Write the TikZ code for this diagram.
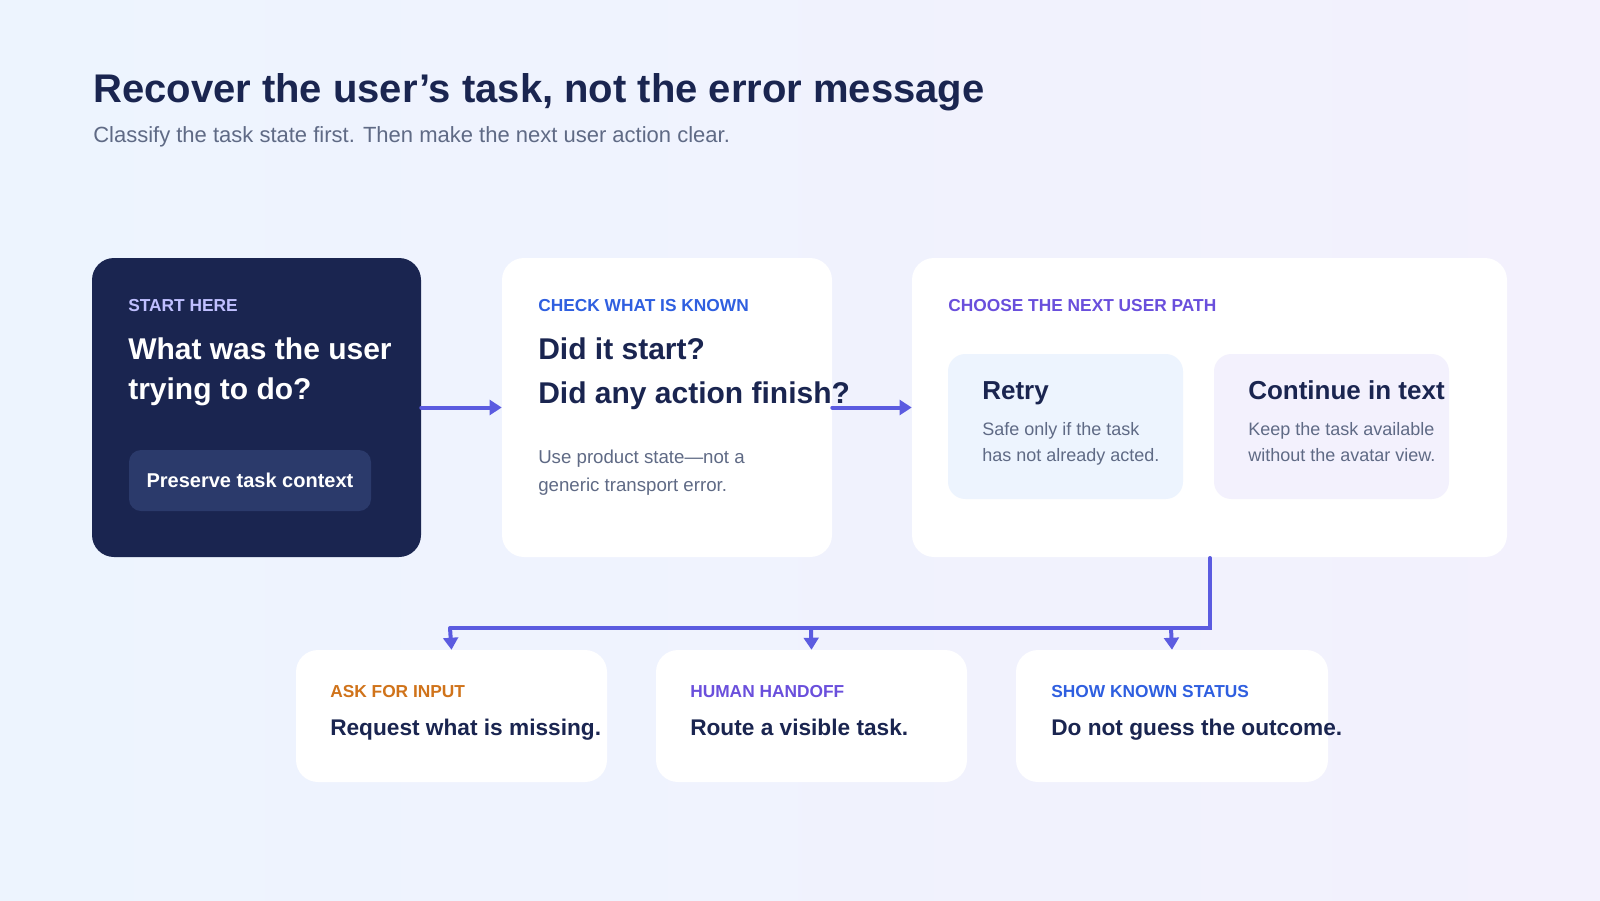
\documentclass[tikz,border=0pt]{standalone}
\usepackage{fontspec}
\setmainfont{Liberation Sans}
\usetikzlibrary{arrows.meta}
\definecolor{navy}{HTML}{1A2550}
\definecolor{btn}{HTML}{2B3A6B}
\definecolor{gtxt}{HTML}{5F6A85}
\definecolor{bluel}{HTML}{2F5FE0}
\definecolor{purp}{HTML}{6A4FDC}
\definecolor{orng}{HTML}{D0731A}
\definecolor{bgA}{HTML}{EDF4FE}
\definecolor{bgB}{HTML}{F3F1FD}
\definecolor{arr}{HTML}{5B5BE0}
\tikzset{
 card/.style={fill=white,rounded corners=22*0.75pt},
 t/.style={anchor=base west,inner sep=0pt},
 fs/.style args={#1}{font=\fontsize{#1*0.75pt}{#1*0.9pt}\selectfont},
 lab/.style={t,font=\fontsize{13pt}{15pt}\selectfont\bfseries},
 big/.style={t,font=\fontsize{22.5pt}{27pt}\selectfont\bfseries,text=navy},
 small/.style={t,font=\fontsize{14pt}{17pt}\selectfont,text=gtxt},
 con/.style={draw=arr,line width=3pt,-{Triangle[length=9pt,width=11pt]}},
}
\begin{document}
\begin{tikzpicture}[x=0.75pt,y=-0.75pt]
\shade[left color=bgA,right color=bgB] (0,0) rectangle (1600,900);
\useasboundingbox (0,0) rectangle (1600,900);
% title
\node[t,font=\fontsize{30pt}{34pt}\selectfont\bfseries,text=navy] (title) at (93,102) {Recover the user’s task, not the error message};
\node[t,font=\fontsize{16.5pt}{20pt}\selectfont,text=gtxt] (sub) at (93,142) {Classify the task state first. Then make the next user action clear.};
% cards
\node[fill=navy,rounded corners=16.5pt,minimum width=329*0.75pt,minimum height=299*0.75pt,inner sep=0pt] (b1) at (256.5,407.5) {};
\node[card,minimum width=330*0.75pt,minimum height=299*0.75pt,inner sep=0pt] (b2) at (667,407.5) {};
\node[card,minimum width=595*0.75pt,minimum height=299*0.75pt,inner sep=0pt] (b3) at (1209.5,407.5) {};
\node[fill=blue!4!white,fill=bgA,rounded corners=13pt,minimum width=235*0.75pt,minimum height=145*0.75pt,inner sep=0pt] (r) at (1065.5,426.5) {};
\node[fill=bgB,rounded corners=13pt,minimum width=235*0.75pt,minimum height=145*0.75pt,inner sep=0pt] (c) at (1331.5,426.5) {};
\node[card,minimum width=311*0.75pt,minimum height=132*0.75pt,inner sep=0pt] (a) at (451.5,716) {};
\node[card,minimum width=311*0.75pt,minimum height=132*0.75pt,inner sep=0pt] (h) at (811.5,716) {};
\node[card,minimum width=312*0.75pt,minimum height=132*0.75pt,inner sep=0pt] (s) at (1172,716) {};
% box1
\node[lab,text=blue!25!white] at (128,311) {START HERE};
\node[big,text=white] at (128,359) {What was the user};
\node[big,text=white] at (128,399) {trying to do?};
\node[fill=btn,rounded corners=9pt,minimum width=242*0.75pt,minimum height=61*0.75pt,inner sep=0pt] (btnn) at (250,480.5) {};
\node[font=\fontsize{15pt}{18pt}\selectfont\bfseries,text=white] at (btnn) {Preserve task context};
% box2
\node[lab,text=bluel] at (538,311) {CHECK WHAT IS KNOWN};
\node[big] at (538,359) {Did it start?};
\node[big] at (538,403) {Did any action finish?};
\node[small] at (538,463) {Use product state—not a};
\node[small] at (538,491) {generic transport error.};
% box3
\node[lab,text=purp] at (948,311) {CHOOSE THE NEXT USER PATH};
\node[t,font=\fontsize{19.5pt}{23pt}\selectfont\bfseries,text=navy] at (982,399) {Retry};
\node[t,font=\fontsize{13.5pt}{16pt}\selectfont,text=gtxt] at (982,435) {Safe only if the task};
\node[t,font=\fontsize{13.5pt}{16pt}\selectfont,text=gtxt] at (982,461) {has not already acted.};
\node[t,font=\fontsize{19.5pt}{23pt}\selectfont\bfseries,text=navy] at (1248,399) {Continue in text};
\node[t,font=\fontsize{13.5pt}{16pt}\selectfont,text=gtxt] at (1248,435) {Keep the task available};
\node[t,font=\fontsize{13.5pt}{16pt}\selectfont,text=gtxt] at (1248,461) {without the avatar view.};
% bottom
\node[lab,text=orng] at (330,697) {ASK FOR INPUT};
\node[t,font=\fontsize{17pt}{20pt}\selectfont\bfseries,text=navy] at (330,735) {Request what is missing.};
\node[lab,text=purp] at (690,697) {HUMAN HANDOFF};
\node[t,font=\fontsize{17pt}{20pt}\selectfont\bfseries,text=navy] at (690,735) {Route a visible task.};
\node[lab,text=bluel] at (1051,697) {SHOW KNOWN STATUS};
\node[t,font=\fontsize{17pt}{20pt}\selectfont\bfseries,text=navy] at (1051,735) {Do not guess the outcome.};
% connectors
\draw[con,line cap=round] (b1.east) -- (b2.west);
\draw[con,line cap=round] (b2.east) -- (b3.west);
\coordinate (j) at (1210,628);
\draw[draw=arr,line width=3pt,line cap=round] (1210,558) -- (j) -- (450,628);
\draw[con] (450,628) -- (a.north);
\draw[con] (811,628) -- (h.north);
\draw[con] (1171,628) -- (s.north);
\end{tikzpicture}
\end{document}
